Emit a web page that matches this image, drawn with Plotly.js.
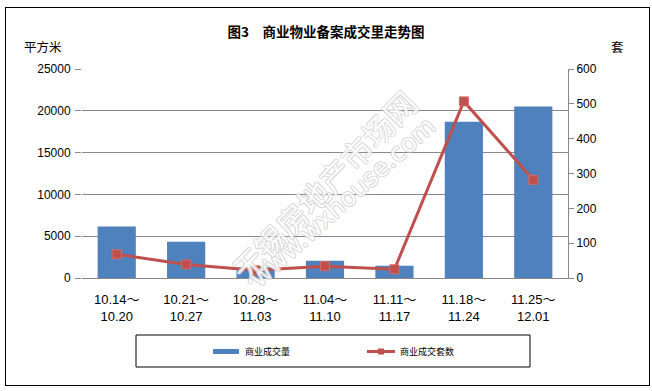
<!DOCTYPE html>
<html>
<head>
<meta charset="utf-8">
<script src="https://cdn.plot.ly/plotly-3.0.1.min.js"></script>
<style>
html,body{margin:0;padding:0;background:#fff;}
#wrap{position:relative;width:652px;height:391px;}
#chart{width:652px;height:391px;}
#frame{position:absolute;left:5px;top:7px;width:643px;height:377px;border:1px solid #000;pointer-events:none;}
</style>
</head>
<body>
<div id="wrap"><div id="chart"></div><div id="frame"></div></div>
<script>
const categories = ['10.14～<br>10.20','10.21～<br>10.27','10.28～<br>11.03','11.04～<br>11.10','11.11～<br>11.17','11.18～<br>11.24','11.25～<br>12.01'];
const areaValues = [6150, 4350, 1300, 2070, 1470, 18700, 20500];
const unitValues = [68, 39, 22, 34, 25, 507, 282];
const seriesNames = ['商业成交量', '商业成交套数'];
const leftTicks = [0, 5000, 10000, 15000, 20000, 25000];
const rightTicks = [0, 100, 200, 300, 400, 500, 600];

const L = 82, R = 568, T = 69, B = 278, W = 652, H = 391;
const px = x => (x - L) / (R - L);
const py = y => (B - y) / (B - T);

const numFont = 'Liberation Sans, Noto Sans CJK SC, sans-serif';
const cjkFont = 'Noto Sans CJK SC, sans-serif';
const blue = '#4F81BD', red = '#C0504D';

const traces = [
  {type:'bar', x:categories, y:areaValues, name:seriesNames[0], marker:{color:blue}, yaxis:'y', showlegend:false},
  {type:'scatter', mode:'lines+markers', x:categories, y:unitValues, name:seriesNames[1], yaxis:'y2',
   line:{color:red, width:3}, marker:{symbol:'square', size:9, color:red, line:{color:'#D46B68', width:1}}, showlegend:false}
];

const wmShadow = '1px 0 0 #cccccc, -1px 0 0 #cccccc, 0 1px 0 #cccccc, 0 -1px 0 #cccccc';

const layout = {
  width:W, height:H,
  margin:{l:L, r:W-R, t:T, b:H-B, pad:0},
  paper_bgcolor:'#fff', plot_bgcolor:'#fff',
  bargap:0.45,
  title:{text:'<b>图3　商业物业备案成交里走势图</b>', x:0.5, xref:'container', y:1-32/H, yref:'container', yanchor:'middle', xanchor:'center',
         font:{family:cjkFont, size:13.5, color:'#000'}},
  xaxis:{type:'category', showline:true, linecolor:'#888', linewidth:1, ticks:'', showgrid:false,
         tickfont:{family:numFont, size:13, color:'#000'}, zeroline:false, fixedrange:true, ticklabelstandoff:9},
  yaxis:{range:[0,25000], tickvals:leftTicks, ticktext:leftTicks.map(String), showgrid:true, gridcolor:'#888', gridwidth:1, showline:false,
         ticks:'outside', ticklen:6, tickcolor:'#888', tickfont:{family:numFont, size:12, color:'#000'},
         zeroline:false, ticklabelstandoff:2, fixedrange:true},
  yaxis2:{range:[0,600], tickvals:rightTicks, ticktext:rightTicks.map(String), overlaying:'y', side:'right', showgrid:false, showline:true,
          linecolor:'#888', linewidth:1, ticks:'outside', ticklen:5, tickcolor:'#888',
          tickfont:{family:numFont, size:12, color:'#000'}, zeroline:false, fixedrange:true},
  annotations:[
    {text:'平方米', xref:'paper', yref:'paper', x:px(22), y:py(46.5), xanchor:'left', yanchor:'middle', showarrow:false,
     font:{family:cjkFont, size:12.5, color:'#000'}},
    {text:'套', xref:'paper', yref:'paper', x:px(617.5), y:py(47), xanchor:'center', yanchor:'middle', showarrow:false,
     font:{family:cjkFont, size:12.5, color:'#000'}},
    {text:'无锡房地产市场网', xref:'paper', yref:'paper', x:px(323), y:py(185), showarrow:false, textangle:-46,
     font:{family:cjkFont, size:31, color:'#ffffff', shadow:wmShadow}, opacity:0.85},
    {text:'www.wxhouse.com', xref:'paper', yref:'paper', x:px(342), y:py(202), showarrow:false, textangle:-42,
     font:{family:'DejaVu Sans, sans-serif', size:25, color:'#ffffff', shadow:wmShadow}, opacity:0.85},
    {text:seriesNames[0], xref:'paper', yref:'paper', x:px(243), y:py(351.5), xanchor:'left', yanchor:'middle', showarrow:false,
     font:{family:cjkFont, size:9, color:'#000'}},
    {text:seriesNames[1], xref:'paper', yref:'paper', x:px(398), y:py(351.5), xanchor:'left', yanchor:'middle', showarrow:false,
     font:{family:cjkFont, size:9, color:'#000'}}
  ],
  shapes:[
    {type:'rect', xref:'paper', yref:'paper', x0:px(136), x1:px(530), y0:py(335), y1:py(367), line:{color:'#000', width:1}, fillcolor:'rgba(0,0,0,0)'},
    {type:'rect', xref:'paper', yref:'paper', x0:px(213), x1:px(239), y0:py(349), y1:py(354), line:{width:0}, fillcolor:blue},
    {type:'line', xref:'paper', yref:'paper', x0:px(367), x1:px(395), y0:py(351.5), y1:py(351.5), line:{color:red, width:3}},
    {type:'rect', xref:'paper', yref:'paper', x0:px(378), x1:px(384), y0:py(348.5), y1:py(354.5), line:{width:0}, fillcolor:red}
  ]
};

Plotly.newPlot('chart', traces, layout, {staticPlot:true, displayModeBar:false});
</script>
</body>
</html>
